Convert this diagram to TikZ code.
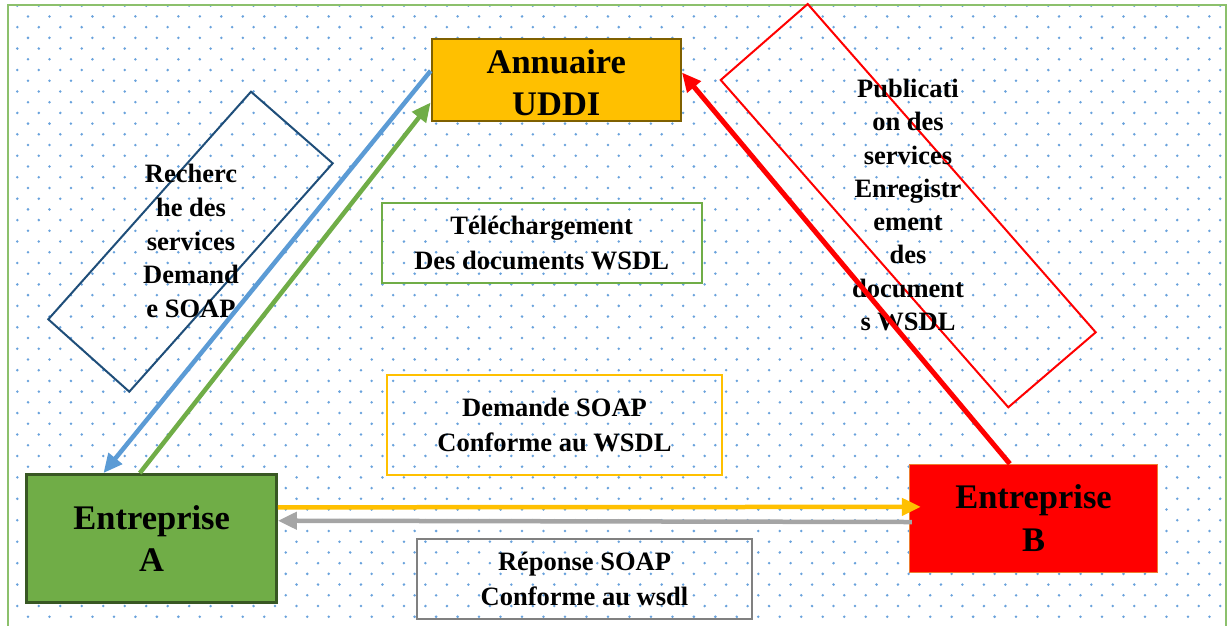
\documentclass[tikz,border=0pt]{standalone}
\usepackage{fontspec}
\setmainfont{Liberation Serif}
\usetikzlibrary{arrows.meta,calc}
\definecolor{dotblue}{RGB}{105,162,220}
\definecolor{framec}{RGB}{140,192,108}
\definecolor{ublue}{RGB}{91,155,213}
\definecolor{ugreen}{RGB}{112,173,71}
\definecolor{dgreen}{RGB}{56,87,35}
\definecolor{uyellow}{RGB}{255,192,0}
\definecolor{dgold}{RGB}{127,96,0}
\definecolor{ugray}{RGB}{165,165,165}
\definecolor{mgray}{RGB}{128,128,128}
\definecolor{uorange}{RGB}{237,125,49}
\definecolor{navy}{RGB}{31,78,121}
\begin{document}
\begin{tikzpicture}[x=1pt,y=-1pt,
  bigtxt/.style={font=\bfseries\fontsize{34.5}{42.5}\selectfont, align=center, inner sep=0pt},
  smalltxt/.style={font=\bfseries\fontsize{26.5}{35}\selectfont, align=center, inner sep=0pt},
  bigbox/.style={bigtxt, rectangle, line width=2pt},
  lblbox/.style={smalltxt, rectangle, line width=2pt},
  conn/.style={line width=4.5pt, -{Triangle[length=19pt,width=17pt]}},
  rotbox/.style={line width=2pt, line join=miter}
]
\useasboundingbox (0,0) rectangle (1229,625);
% dotted background
\begin{scope}
\clip (8.5,6) rectangle (1225,625);
\foreach \r in {0,...,57}{
  \pgfmathsetmacro\yy{5.7+10.72*\r}
  \pgfmathsetmacro\xo{ifthenelse(mod(\r,2)==0,17.3,28)}
  \foreach \c in {0,...,56}{
    \fill[dotblue] (\xo+21.48*\c,\yy) circle (1.4);
  }
}
\end{scope}
% frame
\draw[framec, line width=2pt] (7.5,626) -- (7.5,5) -- (1226,5) -- (1226,626);

% main nodes
\node[bigbox, draw=dgold, fill=uyellow, minimum width=249.3, minimum height=81.4] (U) at (556.3,80) {\rule{0pt}{29.5pt}Annuaire\\UDDI};
\node[bigbox, draw=dgreen, fill=ugreen, line width=2.5pt, minimum width=250, minimum height=128.4] (A) at (151.7,538.5) {Entreprise\\A};
\node[bigbox, draw=uorange, fill=red, line width=1pt, minimum width=248.4, minimum height=108] (B) at (1033.5,518.3) {Entreprise\\B};

% label boxes
\node[lblbox, draw=ugreen, minimum width=320, minimum height=80.6] (T) at (541.7,243) {Téléchargement\\Des documents WSDL};
\node[lblbox, draw=uyellow, minimum width=334.4, minimum height=100] (D) at (554.5,425) {Demande SOAP\\Conforme au WSDL};
\node[lblbox, draw=mgray, minimum width=334.4, minimum height=80] (R) at (584.5,579.3) {Réponse SOAP\\Conforme au wsdl};

% rotated boxes
\draw[rotbox, navy] (251,91.7) -- (332.7,163.3) -- (129.3,391.7) -- (48.3,319.3) -- cycle;
\draw[rotbox, red] (807.7,4) -- (1095.7,332.3) -- (1008.3,407.3) -- (720.7,80) -- cycle;

% rotated-box texts
\node[smalltxt, font=\bfseries\fontsize{26.5}{33.6}\selectfont] (rt) at (191,241) {Recherc\\he des\\services\\Demand\\e SOAP};
\node[smalltxt, font=\bfseries\fontsize{26.5}{33.3}\selectfont] (pt) at (908,205) {Publicati\\on des\\services\\Enregistr\\ement\\des\\document\\s WSDL};

% connector end points
\coordinate (u1) at ($(U.north west)!0.39!(U.south west)$);
\coordinate (u2) at ($(U.north west)!0.77!(U.south west)$);
\coordinate (u3) at ($(U.north east)!0.41!(U.south east)$);
\coordinate (a1) at ($(A.north west)!0.309!(A.north east)$);
\coordinate (a2) at ($(A.north west)!0.453!(A.north east)$);
\coordinate (a3) at ($(A.north east)!0.262!(A.south east)$);
\coordinate (a4) at ($(A.north east)!0.364!(A.south east)$);
\coordinate (b1) at ($(B.north west)!0.405!(B.north east)$);
\coordinate (b3) at ($(B.north west)!0.395!(B.south west)$);
\coordinate (b4) at ($(B.north west)!0.534!(B.south west)$);

% connectors
\draw[conn, ublue] (u1) -- (a1);
\draw[conn, ugreen] (a2) -- (u2);
\draw[conn, red, line width=5pt] (b1) -- (u3);
\draw[conn, uyellow] (a3) -- ($(b3)+(12,0)$) coordinate (b3t);
\draw[conn, ugray] ($(b4)+(3,0)$) coordinate (b4s) -- (a4);
\end{tikzpicture}
\end{document}
